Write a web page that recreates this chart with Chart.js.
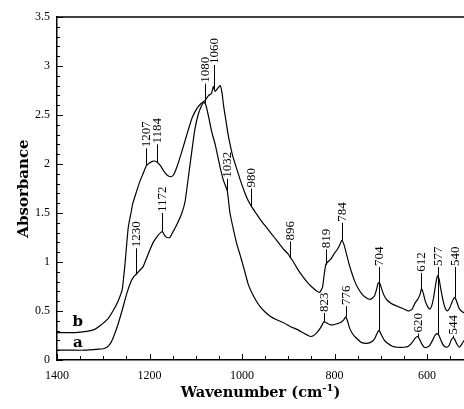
<!DOCTYPE html>
<html>
<head>
<meta charset="utf-8">
<script src="https://cdn.jsdelivr.net/npm/chart.js@4.4.1/dist/chart.umd.min.js"></script>
<style>
  html, body { margin: 0; padding: 0; background: #fff; }
  canvas { display: block; }
</style>
</head>
<body>
<canvas id="ir" width="464" height="409"></canvas>
<script>
// spectrum b (upper curve)
const waveB = [1400,1380,1360,1340,1320,1307,1290,1279,1268,1259,1253,1246,1240,1236,1228,1221,1214,1207,1200,1192,1184,1176,1168,1160,1154,1148,1140,1128,1118,1108,1097,1088,1080,1072,1066,1062,1058,1053,1047,1043,1040,1035,1030,1020,1010,1004,995,987,980,970,960,950,940,930,920,910,900,896,890,880,870,860,850,840,832,826,822,819,815,810,805,800,795,790,784,779,774,768,762,756,750,740,730,722,714,709,706,704,701,697,692,686,678,670,660,650,640,632,626,620,615,612,608,603,598,594,590,586,582,579,577,574,570,565,560,556,551,546,542,540,536,531,526,520];
const absB = [0.28,0.28,0.28,0.29,0.31,0.35,0.42,0.5,0.6,0.72,0.98,1.35,1.5,1.6,1.72,1.82,1.9,1.98,2.01,2.03,2.02,1.98,1.92,1.88,1.87,1.89,1.98,2.16,2.32,2.47,2.57,2.62,2.65,2.7,2.72,2.79,2.74,2.77,2.8,2.72,2.6,2.45,2.3,2.08,1.93,1.84,1.72,1.63,1.57,1.5,1.43,1.37,1.31,1.25,1.19,1.13,1.08,1.05,1.01,0.93,0.86,0.8,0.75,0.71,0.69,0.74,0.88,0.97,1.0,1.02,1.05,1.09,1.12,1.16,1.22,1.17,1.08,0.97,0.88,0.8,0.74,0.67,0.63,0.62,0.65,0.72,0.78,0.79,0.77,0.71,0.65,0.61,0.58,0.56,0.54,0.52,0.5,0.52,0.58,0.62,0.67,0.73,0.68,0.59,0.54,0.52,0.55,0.63,0.75,0.83,0.86,0.83,0.72,0.6,0.52,0.5,0.53,0.59,0.63,0.64,0.6,0.53,0.5,0.48];

// spectrum a (lower curve)
const waveA = [1400,1370,1340,1310,1300,1292,1283,1275,1267,1259,1249,1240,1234,1230,1222,1214,1203,1192,1182,1176,1172,1167,1162,1156,1150,1140,1130,1123,1115,1108,1102,1095,1088,1082,1078,1073,1065,1058,1048,1040,1032,1026,1018,1011,1004,995,987,980,970,960,950,940,925,910,895,880,865,852,845,838,830,823,818,810,802,795,788,780,776,772,767,760,752,742,732,722,714,709,705,702,698,692,685,675,665,650,640,632,626,621,617,612,606,600,594,588,583,578,574,569,563,557,552,548,544,540,535,530,525,520];
const absA = [0.1,0.1,0.1,0.11,0.115,0.13,0.18,0.27,0.38,0.51,0.68,0.8,0.85,0.87,0.91,0.95,1.08,1.2,1.27,1.3,1.31,1.27,1.25,1.25,1.3,1.39,1.5,1.62,1.9,2.15,2.35,2.5,2.59,2.63,2.6,2.5,2.32,2.2,1.98,1.83,1.73,1.5,1.32,1.18,1.07,0.92,0.78,0.7,0.61,0.54,0.49,0.45,0.41,0.38,0.34,0.31,0.27,0.24,0.25,0.28,0.33,0.39,0.38,0.36,0.36,0.37,0.38,0.41,0.44,0.4,0.32,0.26,0.22,0.18,0.17,0.18,0.21,0.26,0.3,0.29,0.25,0.2,0.17,0.14,0.13,0.13,0.14,0.18,0.22,0.24,0.22,0.17,0.13,0.13,0.15,0.2,0.25,0.27,0.25,0.19,0.14,0.13,0.15,0.2,0.23,0.21,0.16,0.13,0.16,0.2];

const xTicks = [1400, 1200, 1000, 800, 600];

// peak labels: wavenumber, which curve the mark points to, absorbance where the text ends
const peakWn = [1230, 1207, 1184, 1172, 1080, 1060, 1032, 980, 896, 819, 784, 823, 776, 704, 612, 577, 540, 620, 544];
const peakCurve = ["a", "b", "b", "a", "a", "b", "a", "b", "b", "b", "b", "a", "a", "a", "b", "a", "b", "a", "a"];
const peakTop = [1.15, 2.17, 2.21, 1.51, 2.83, 3.02, 1.86, 1.76, 1.22, 1.14, 1.41, 0.49, 0.56, 0.96, 0.9, 0.96, 0.96, 0.28, 0.26];

// curve letters
const curveNames = ["b", "a"];
const curveNameWn = [1355, 1355];
const curveNameAbs = [0.39, 0.17];

const SERIF = "'Liberation Serif', 'Times New Roman', serif";
const BOLD_SERIF = "'DejaVu Serif', serif";

const toPoints = (xs, ys) => xs.map((x, i) => ({ x, y: ys[i] }));

function curveAt(wn, xs, ys) {
  for (let i = 0; i < xs.length - 1; i++) {
    if (wn <= xs[i] && wn >= xs[i + 1]) {
      const t = (xs[i] - wn) / (xs[i] - xs[i + 1]);
      return ys[i] + t * (ys[i + 1] - ys[i]);
    }
  }
  return ys[ys.length - 1];
}

const decor = {
  id: "decor",
  afterDatasetsDraw(chart) {
    const { ctx, chartArea: area, scales: { x, y } } = chart;
    ctx.save();
    ctx.strokeStyle = "#000";
    ctx.fillStyle = "#000";

    // top frame line
    ctx.lineWidth = 1.5;
    ctx.beginPath();
    ctx.moveTo(area.left, area.top);
    ctx.lineTo(area.right, area.top);
    ctx.stroke();

    // inward ticks
    ctx.lineWidth = 1;
    ctx.beginPath();
    for (let v = 0; v <= 35; v++) {
      const py = Math.round(y.getPixelForValue(v / 10)) + 0.5;
      const len = v % 5 === 0 ? 6 : 3;
      ctx.moveTo(area.left, py);
      ctx.lineTo(area.left + len, py);
    }
    for (let w = 550; w <= 1400; w += 50) {
      const px = Math.round(x.getPixelForValue(w)) + 0.5;
      const len = w % 200 === 0 ? 6 : 4;
      ctx.moveTo(px, area.bottom);
      ctx.lineTo(px, area.bottom - len);
    }
    ctx.stroke();

    // peak labels
    ctx.font = "13px " + SERIF;
    ctx.lineWidth = 1;
    peakWn.forEach((wn, i) => {
      const onA = peakCurve[i] === "a";
      const end = curveAt(wn, onA ? waveA : waveB, onA ? absA : absB);
      const px = Math.round(x.getPixelForValue(wn)) + 0.5;
      const top = y.getPixelForValue(peakTop[i]);
      const bot = y.getPixelForValue(end);
      ctx.beginPath();
      ctx.moveTo(px, top + 1);
      ctx.lineTo(px, bot);
      ctx.stroke();
      ctx.save();
      ctx.translate(px + 0.5, top);
      ctx.rotate(-Math.PI / 2);
      ctx.textAlign = "left";
      ctx.textBaseline = "middle";
      ctx.fillText(String(wn), 0, 0);
      ctx.restore();
    });

    // curve letters
    ctx.font = "bold 15px " + BOLD_SERIF;
    ctx.textAlign = "center";
    ctx.textBaseline = "middle";
    curveNames.forEach((n, i) => {
      ctx.fillText(n, x.getPixelForValue(curveNameWn[i]), y.getPixelForValue(curveNameAbs[i]));
    });

    // x axis title with superscript
    const main = "Wavenumber (cm";
    const sup = "-1";
    const close = ")";
    ctx.textAlign = "left";
    ctx.textBaseline = "alphabetic";
    ctx.font = "bold 14.5px " + BOLD_SERIF;
    const w1 = ctx.measureText(main).width;
    const w3 = ctx.measureText(close).width;
    ctx.font = "bold 10px " + BOLD_SERIF;
    const w2 = ctx.measureText(sup).width;
    const cx = (area.left + area.right) / 2;
    let tx = cx - (w1 + w2 + w3) / 2;
    const base = 397;
    ctx.font = "bold 14.5px " + BOLD_SERIF;
    ctx.fillText(main, tx, base);
    tx += w1;
    ctx.font = "bold 10px " + BOLD_SERIF;
    ctx.fillText(sup, tx, base - 6);
    tx += w2;
    ctx.font = "bold 14.5px " + BOLD_SERIF;
    ctx.fillText(close, tx, base);

    ctx.restore();
  }
};

new Chart(document.getElementById("ir"), {
  type: "line",
  data: {
    datasets: [
      { label: "b", data: toPoints(waveB, absB), borderColor: "#000", borderWidth: 1.2, pointRadius: 0, tension: 0.15, fill: false },
      { label: "a", data: toPoints(waveA, absA), borderColor: "#000", borderWidth: 1.2, pointRadius: 0, tension: 0.15, fill: false }
    ]
  },
  options: {
    responsive: false,
    animation: false,
    devicePixelRatio: 1,
    layout: { padding: { top: 17, right: 0, left: 0, bottom: 0 } },
    plugins: { legend: { display: false }, tooltip: { enabled: false } },
    scales: {
      x: {
        type: "linear",
        reverse: true,
        min: 520,
        max: 1400,
        afterBuildTicks: (s) => { s.ticks = xTicks.map((v) => ({ value: v })); },
        afterFit: (s) => { s.height = 49; },
        grid: { display: false, drawTicks: false },
        border: { display: true, color: "#000", width: 1.5 },
        ticks: { color: "#000", font: { family: SERIF, size: 12 }, padding: 9, maxRotation: 0, autoSkip: false, callback: (v) => String(v) }
      },
      y: {
        min: 0,
        max: 3.5,
        afterFit: (s) => { s.width = 57; },
        grid: { display: false, drawTicks: false },
        border: { display: true, color: "#000", width: 1.5 },
        ticks: { stepSize: 0.5, color: "#000", font: { family: SERIF, size: 12 }, padding: 7, callback: (v) => String(v) },
        title: {
          display: true,
          text: "Absorbance",
          color: "#000",
          font: { family: BOLD_SERIF, size: 15, weight: "bold" },
          padding: { top: 15, bottom: 0 }
        }
      }
    }
  },
  plugins: [decor]
});
</script>
</body>
</html>
